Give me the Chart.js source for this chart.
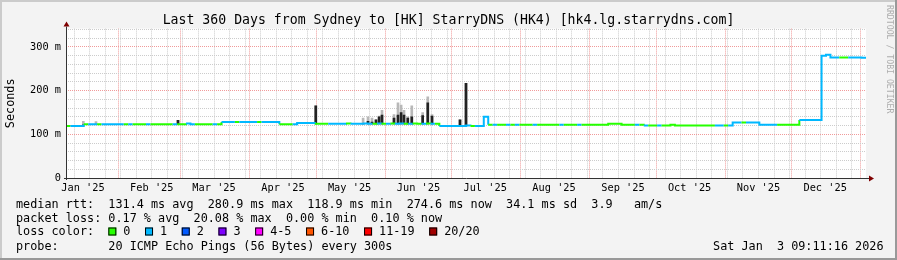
<!DOCTYPE html>
<html>
<head>
<meta charset="utf-8">
<script src="https://cdn.jsdelivr.net/npm/chart.js@4.4.1/dist/chart.umd.min.js"></script>
<style>
html, body { margin: 0; padding: 0; background: #f3f3f3; }
canvas { display: block; }
</style>
</head>
<body>
<canvas id="rrd" width="897" height="260"></canvas>
<script>
// median rtt (ms), one sample every 2 days from Jan 8 2025 09:11
const medianRtt = [
  119,119,119,119,123,123,123,123,123,123,
  123,123,123,123,123,123,123,123,123,123,
  123,123,123,123,123,123,123,125,123,123,
  123,123,123,123,123,128,128,128,128,128,
  128,128,128,128,128,128,128,128,123,123,
  123,123,126,126,126,126,124,124,124,124,
  124,124,124,125,124,124,124,125,124,124,
  125,124,124,125,124,125,124,124,125,124,
  124,125,124,124,119,119,119,119,119,119,
  120,119,119,119,140,122,122,122,122,122,
  122,122,122,122,122,122,122,122,122,122,
  122,122,122,122,122,122,122,122,122,122,
  122,122,124,124,124,122,122,122,122,122,
  120,120,120,120,120,120,122,120,120,120,
  120,120,120,120,120,120,120,120,120,120,
  127,127,127,127,127,127,122,122,122,122,
  122,122,122,122,122,133,133,133,133,133,
  280,282,276,276,276,276,276,276,276,275,275
];
// lost pings (of 20) for each sample
const medianLoss = [
  0,1,1,1,0,1,1,0,1,1,
  1,1,1,0,1,0,0,0,1,0,
  0,0,0,0,1,0,0,1,1,0,
  0,0,0,1,0,1,1,1,0,1,
  1,1,1,0,1,1,1,1,0,0,
  0,1,1,1,1,1,0,0,0,1,
  1,1,1,0,1,1,1,1,1,0,
  1,0,1,0,1,1,0,1,0,0,
  1,0,1,0,1,1,1,1,1,1,
  1,0,1,1,1,0,1,0,0,1,
  0,1,0,0,0,1,0,0,0,0,
  0,1,0,0,0,1,0,0,0,0,
  0,0,0,0,0,0,0,0,1,0,
  1,0,0,1,0,0,0,0,0,0,
  0,0,0,0,0,0,1,1,0,1,
  1,1,0,1,1,1,1,1,1,1,
  0,0,0,0,0,1,1,1,1,1,
  1,1,1,1,0,0,1,1,1,1,1
];

// smoke (ping spread) at the noisy days
const smokeDays = [7.8, 13.5, 50.4, 112.4, 133.7, 135.9, 137.7, 139.5, 140.9, 142.2, 147.6, 149.4, 150.8, 152.1, 153.8, 155.6, 160.5, 162.8, 164.7, 177.3, 180.0];
const smokeBase = [123, 123, 123, 124, 124, 124, 124, 124, 124, 124, 124, 124, 124, 124, 124, 124, 124, 124, 124, 119, 119];
const smokeCore = [123, 123, 132, 165, 124, 130, 128, 133, 140, 144, 137, 144, 150, 144, 137, 140, 143, 172, 142, 133, 217];
const smokeTop  = [130, 129, 132, 165, 137, 140, 137, 133, 142, 155, 145, 172, 167, 155, 140, 165, 150, 186, 145, 133, 217];

const monthLabels = ["Jan '25", "Feb '25", "Mar '25", "Apr '25", "May '25", "Jun '25", "Jul '25", "Aug '25", "Sep '25", "Oct '25", "Nov '25", "Dec '25"];
const yTickValues = [0, 100, 200, 300];
const yTickLabels = ['0', '100 m', '200 m', '300 m'];

const lossLabels = ['0', '1', '2', '3', '4-5', '6-10', '11-19', '20/20'];
const lossColors = ['#26ff00', '#00b8ff', '#0059ff', '#7e00ff', '#ff00ff', '#ff5500', '#ff0000', '#a10000'];

const titleText = 'Last 360 Days from Sydney to [HK] StarryDNS (HK4) [hk4.lg.starrydns.com]';
const statLines = [
  'median rtt:  131.4 ms avg  280.9 ms max  118.9 ms min  274.6 ms now  34.1 ms sd  3.9   am/s',
  'packet loss: 0.17 % avg  20.08 % max  0.00 % min  0.10 % now',
  'loss color:',
  'probe:       20 ICMP Echo Pings (56 Bytes) every 300s'
];
const stampText = 'Sat Jan  3 09:11:16 2026';

const MONO = '"DejaVu Sans Mono", monospace';
const DAY = 864e5;
const endTime = Date.UTC(2026, 0, 3, 9, 11, 16);
const startTime = endTime - 360 * DAY;
const toDay = t => (t - startTime) / DAY;

function lossBucket(n) {
  if (n <= 3) return n;
  if (n <= 5) return 4;
  if (n <= 10) return 5;
  if (n <= 19) return 6;
  return 7;
}

// x axis ticks: weekly minor grid, monthly major grid, labels at mid month
const xTicks = [];
const monthDays = [];
for (let m = 0; m <= 12; m++) {
  const d = toDay(Date.UTC(2025, m, 1));
  if (d >= 0 && d <= 360) { monthDays.push(d); xTicks.push({ value: d, kind: 'month' }); }
  const l = d + 15;
  if (m < monthLabels.length && l >= 0 && l <= 360) xTicks.push({ value: l, kind: 'label', text: monthLabels[m] });
}
for (let t = Date.UTC(2025, 0, 12); t <= endTime; t += 7 * DAY) {
  const d = toDay(t);
  if (monthDays.indexOf(d) < 0) xTicks.push({ value: d, kind: 'week' });
}
xTicks.sort((a, b) => a.value - b.value);

const rrdDecor = {
  id: 'rrdDecor',
  beforeDraw(chart) {
    const { ctx, chartArea: a } = chart;
    ctx.save();
    ctx.fillStyle = '#f3f3f3';
    ctx.fillRect(0, 0, chart.width, chart.height);
    ctx.fillStyle = '#ffffff';
    ctx.fillRect(a.left, a.top, a.right - a.left, a.bottom - a.top);
    ctx.restore();
  },
  afterDraw(chart) {
    const { ctx, chartArea: a } = chart;
    ctx.save();

    // axes with arrows
    ctx.strokeStyle = '#333';
    ctx.lineWidth = 1;
    ctx.beginPath();
    ctx.moveTo(a.left - 2, a.bottom + 0.5);
    ctx.lineTo(a.right + 3, a.bottom + 0.5);
    ctx.moveTo(a.left + 0.5, a.bottom + 2);
    ctx.lineTo(a.left + 0.5, a.top - 2);
    ctx.stroke();
    ctx.fillStyle = '#7f0000';
    ctx.beginPath();
    ctx.moveTo(a.right + 3, a.bottom - 2.5);
    ctx.lineTo(a.right + 8, a.bottom + 0.5);
    ctx.lineTo(a.right + 3, a.bottom + 3.5);
    ctx.closePath();
    ctx.fill();
    ctx.beginPath();
    ctx.moveTo(a.left - 2.5, a.top - 2);
    ctx.lineTo(a.left + 0.5, a.top - 7);
    ctx.lineTo(a.left + 3.5, a.top - 2);
    ctx.closePath();
    ctx.fill();

    // title
    ctx.fillStyle = '#000';
    ctx.font = '13.2px ' + MONO;
    ctx.textAlign = 'center';
    ctx.textBaseline = 'alphabetic';
    ctx.fillText(titleText, 448.5, 23.5);

    // unit label
    ctx.save();
    ctx.translate(10.5, (a.top + a.bottom) / 2);
    ctx.rotate(-Math.PI / 2);
    ctx.font = '11.8px ' + MONO;
    ctx.textBaseline = 'middle';
    ctx.fillText('Seconds', 0, 0);
    ctx.restore();

    // legend
    ctx.font = '11.8px ' + MONO;
    ctx.textAlign = 'left';
    const base = [207.5, 221.6, 235.4, 249.5];
    statLines.forEach((s, i) => ctx.fillText(s, 16, base[i]));
    const cw = ctx.measureText('0').width;
    let bx = 16 + 13 * cw;
    lossLabels.forEach((lab, i) => {
      ctx.fillStyle = lossColors[i];
      ctx.fillRect(bx, 227.5, 8, 8);
      ctx.strokeStyle = '#000';
      ctx.strokeRect(bx + 0.5, 227.5 + 0.5, 7, 7);
      ctx.fillStyle = '#000';
      ctx.fillText(lab, bx + 15, base[2]);
      bx += 15 + lab.length * cw + 14.6;
    });
    ctx.textAlign = 'right';
    ctx.fillText(stampText, 883.5, base[3]);

    // watermark
    ctx.save();
    ctx.translate(889.5, 5);
    ctx.rotate(Math.PI / 2);
    ctx.font = '8.2px ' + MONO;
    ctx.fillStyle = '#adadad';
    ctx.textAlign = 'left';
    ctx.textBaseline = 'middle';
    ctx.fillText('RRDTOOL / TOBI OETIKER', 0, 0);
    ctx.restore();

    // frame
    ctx.fillStyle = '#cbcbcb';
    ctx.fillRect(0, 0, chart.width, 2);
    ctx.fillRect(0, 0, 2, chart.height);
    ctx.fillStyle = '#999999';
    ctx.fillRect(0, chart.height - 2, chart.width, 2);
    ctx.fillRect(chart.width - 2, 0, 2, chart.height);
    ctx.restore();
  }
};

const ctx = document.getElementById('rrd').getContext('2d');
const rrdChart = new Chart(ctx, {
  type: 'line',
  data: {
    datasets: [{
      label: 'median rtt',
      data: medianRtt.map((v, i) => ({ x: i * 2, y: v })),
      stepped: 'before',
      borderWidth: 2,
      pointRadius: 0,
      fill: false,
      order: 0,
      segment: {
        borderColor: c => lossColors[lossBucket(medianLoss[c.p0DataIndex])]
      }
    }, {
      type: 'bar',
      label: 'smoke core',
      data: smokeDays.map((d, i) => ({ x: d, y: [smokeBase[i], smokeCore[i]] })),
      backgroundColor: '#222222',
      barThickness: 2,
      grouped: false,
      order: 1
    }, {
      type: 'bar',
      label: 'smoke',
      data: smokeDays.map((d, i) => ({ x: d, y: [smokeBase[i], smokeTop[i]] })),
      backgroundColor: '#b8b8b8',
      barThickness: 2,
      grouped: false,
      order: 2
    }]
  },
  options: {
    responsive: false,
    animation: false,
    devicePixelRatio: 1,
    layout: { padding: { top: 28.6, right: 31, bottom: 0, left: 0 } },
    scales: {
      x: {
        type: 'linear',
        min: 0,
        max: 360,
        offset: false,
        afterBuildTicks: scale => { scale.ticks = xTicks.map(t => Object.assign({}, t)); },
        afterFit: scale => { scale.height = 82; },
        grid: {
          drawTicks: false,
          offset: false,
          color: c => {
            const k = c.tick && c.tick.kind;
            if (k === 'month') return '#f09a9a';
            if (k === 'week') return '#cccccc';
            return 'rgba(0,0,0,0)';
          }
        },
        border: { display: false, dash: [1, 1] },
        ticks: {
          autoSkip: false,
          maxRotation: 0,
          padding: 4,
          color: '#000',
          font: { family: MONO, size: 10.3 },
          callback: (v, i, ticks) => ticks[i].kind === 'label' ? ticks[i].text : ''
        }
      },
      y: {
        min: 0,
        max: 342,
        afterFit: scale => { scale.width = 66; },
        grid: {
          drawTicks: false,
          color: c => {
            const v = c.tick ? c.tick.value : 0;
            if (v === 0) return 'rgba(0,0,0,0)';
            return v % 100 === 0 ? '#f09a9a' : '#cccccc';
          }
        },
        border: { display: false, dash: [1, 1] },
        ticks: {
          stepSize: 20,
          autoSkip: false,
          includeBounds: false,
          padding: 5,
          color: '#000',
          font: { family: MONO, size: 10.3 },
          callback: v => {
            const k = yTickValues.indexOf(v);
            return k >= 0 ? yTickLabels[k] : '';
          }
        }
      }
    },
    plugins: {
      legend: { display: false },
      tooltip: { enabled: false },
      title: { display: false }
    }
  },
  plugins: [rrdDecor]
});
</script>
</body>
</html>
